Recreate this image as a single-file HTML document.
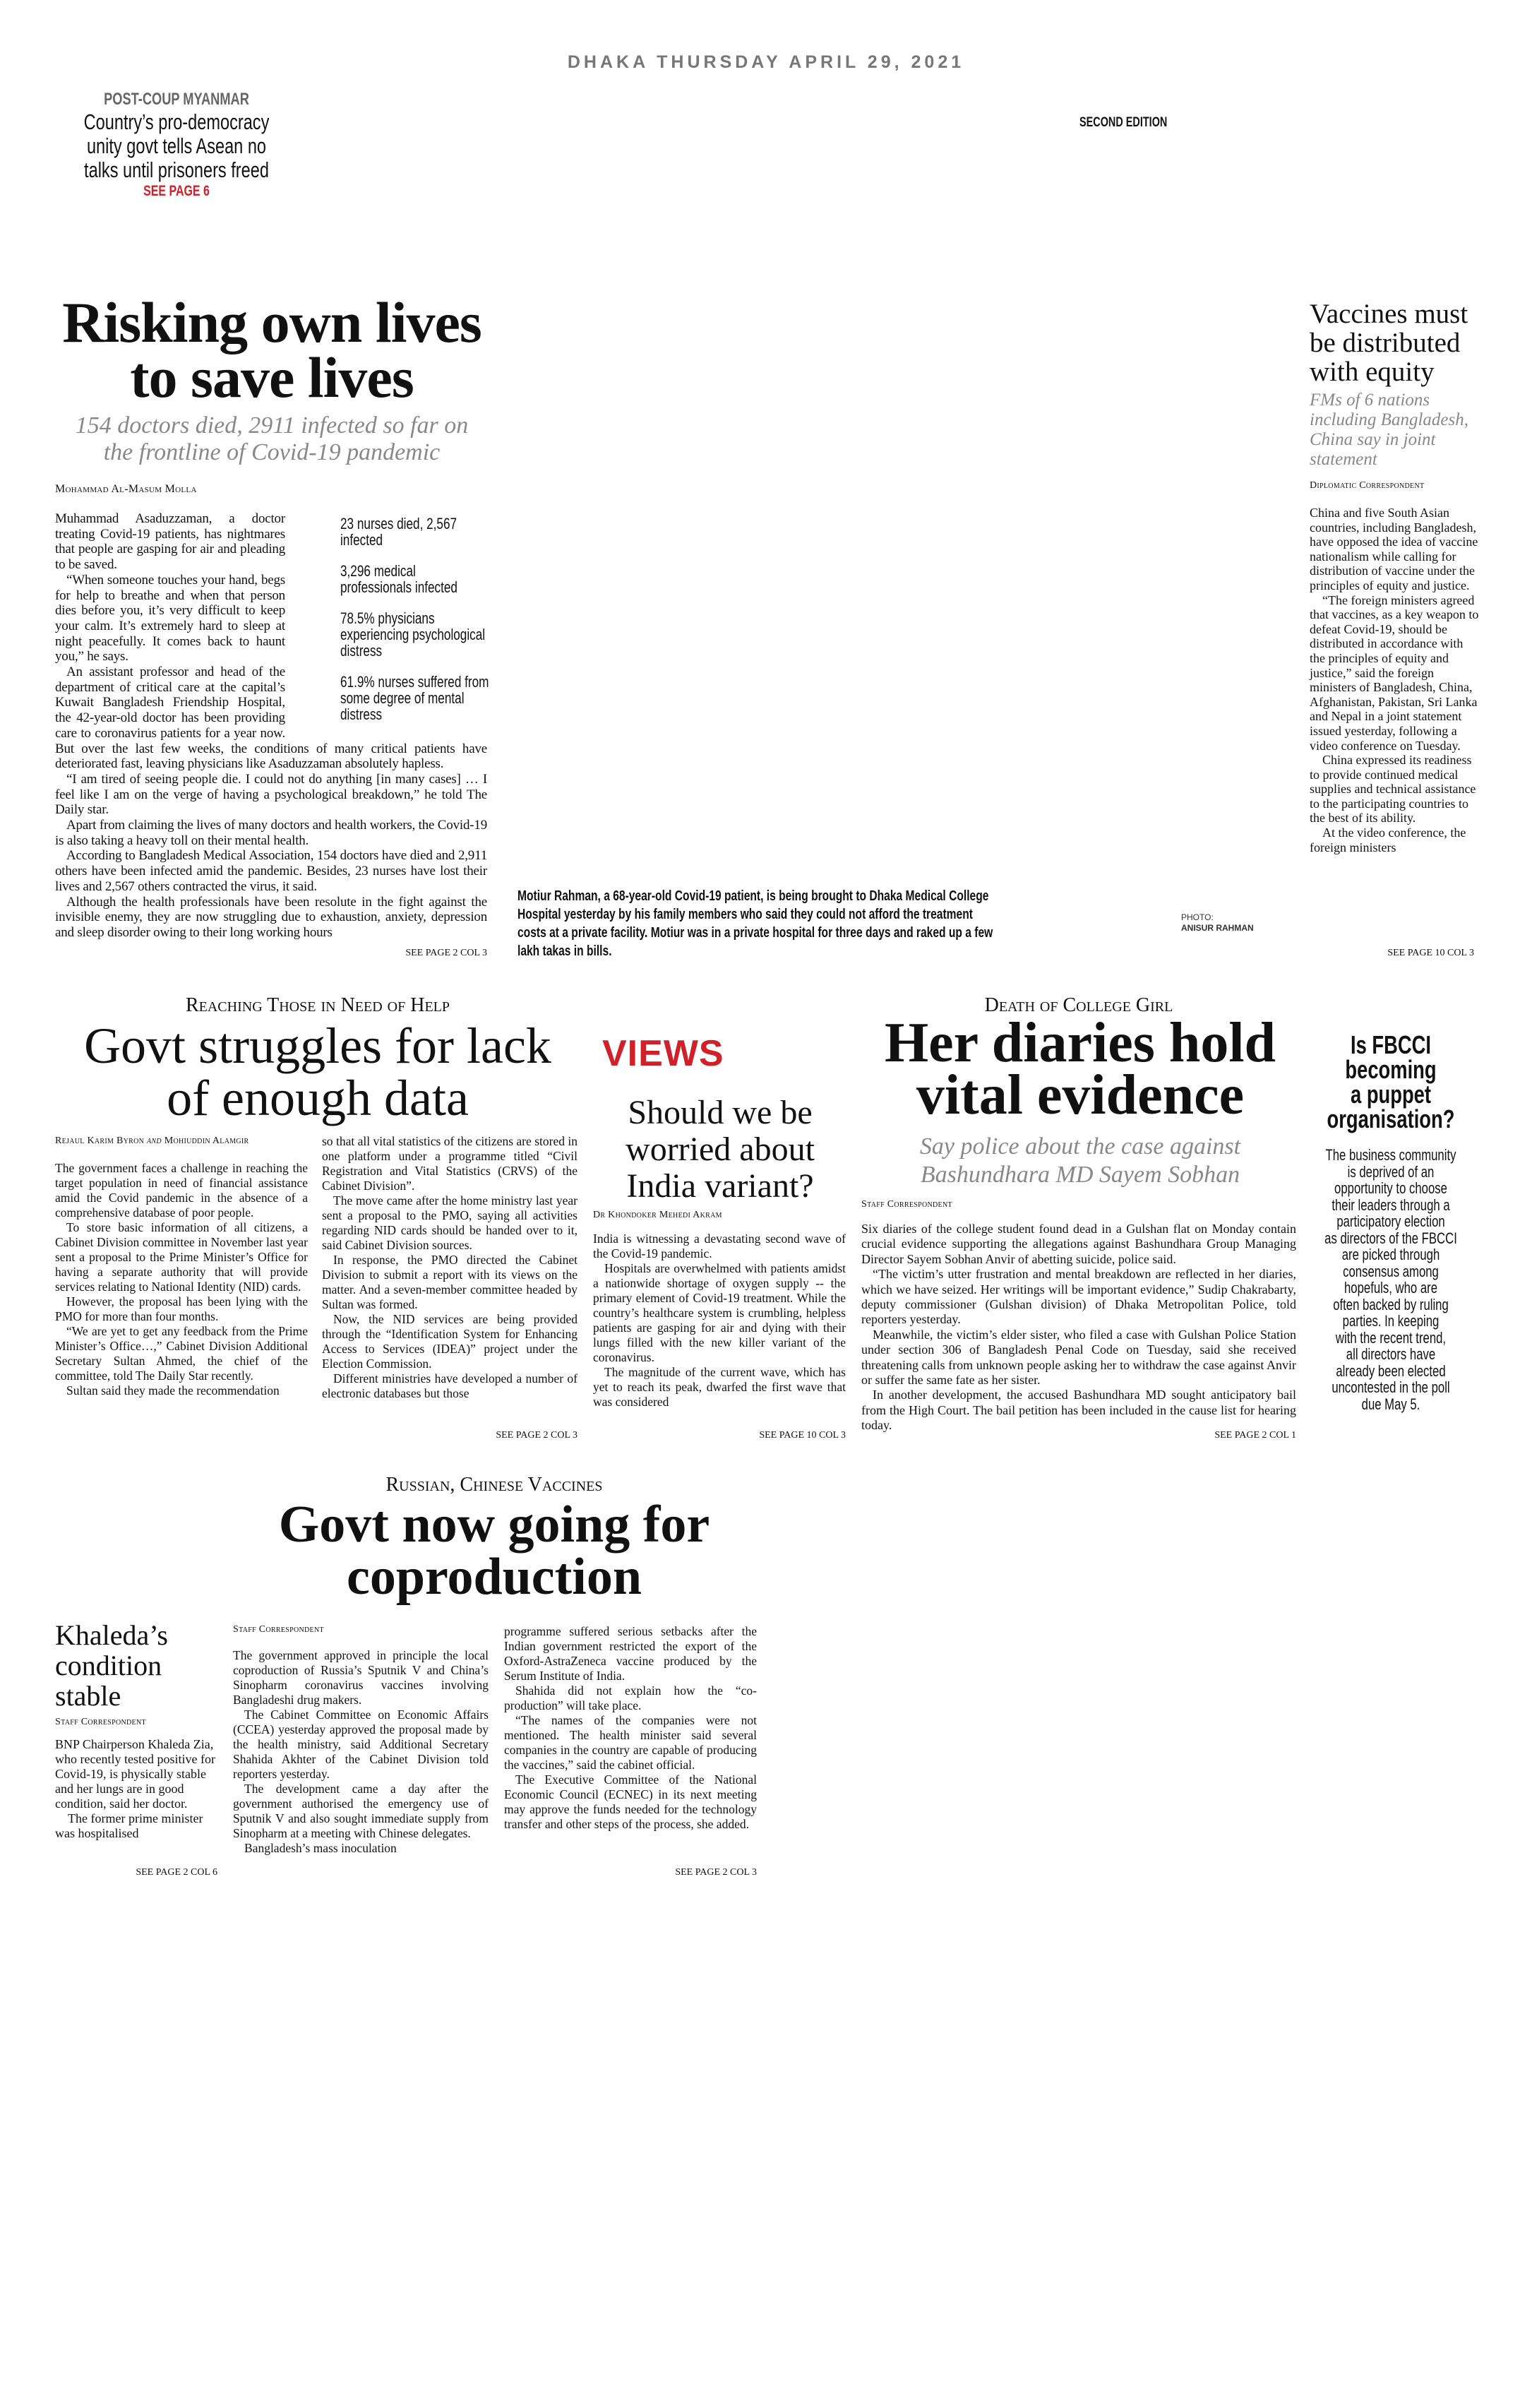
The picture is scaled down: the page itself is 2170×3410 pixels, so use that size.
<!DOCTYPE html>
<html><head><meta charset="utf-8">
<style>
*{margin:0;padding:0;box-sizing:border-box}
html,body{width:2170px;height:3410px;background:#fff;overflow:hidden}
body{position:relative;font-family:"Liberation Serif",serif;color:#111}
.a{position:absolute}
.c{text-align:center}
.cond{font-family:"Liberation Sans",sans-serif}
.body{font-size:17.5px;line-height:21.6px;text-align:justify}
.body p{text-indent:16px}
.body p.f{text-indent:0}
.sc{font-variant:small-caps;font-size:16px;letter-spacing:.3px}
.see{font-size:14px;text-align:right;font-variant:small-caps}
.sqc{transform:scaleX(.76);transform-origin:center top}
.sql{transform:scaleX(.78);transform-origin:left top}
</style></head><body>

<div class="a c" style="left:0;width:2170px;top:74px;font-size:25px;font-weight:bold;color:#777;letter-spacing:5px;font-family:'Liberation Sans',sans-serif">DHAKA THURSDAY APRIL 29, 2021</div>

<div class="a c cond sqc" style="left:30px;width:440px;top:126px;">
<div style="font-size:24px;font-weight:bold;color:#666;line-height:30px">POST-COUP MYANMAR</div>
<div style="font-size:31px;line-height:34px;color:#111">Country’s pro-democracy<br>unity govt tells Asean no<br>talks until prisoners freed</div>
<div style="font-size:21px;font-weight:bold;color:#d0202a;line-height:26px">SEE PAGE 6</div>
</div>

<div class="a sqc" style="left:1505px;top:163px;font-size:19px;font-weight:bold;font-family:'Liberation Sans',sans-serif;width:200px">SECOND EDITION</div>

<!-- Main headline -->
<div class="a c" style="left:60px;width:650px;top:418px;font-size:82px;font-weight:bold;line-height:78px;letter-spacing:-1px">Risking own lives<br>to save lives</div>
<div class="a c" style="left:60px;width:650px;top:584px;font-size:34px;font-style:italic;color:#888;line-height:38px">154 doctors died, 2911 infected so far on<br>the frontline of Covid-19 pandemic</div>
<div class="a sc" style="left:78px;top:684px;">Mohammad Al-Masum Molla</div>

<div class="a body" style="left:78px;top:724px;width:612px;font-size:19px;line-height:21.7px;letter-spacing:-0.2px">
<div style="float:right;width:286px;height:308px;padding-left:78px;text-align:left;padding-top:6px">
<div class="sql cond" style="width:272px;font-size:22px;line-height:23px;letter-spacing:0">
<div style="margin-bottom:21px">23 nurses died, 2,567 infected</div>
<div style="margin-bottom:21px">3,296 medical professionals infected</div>
<div style="margin-bottom:21px">78.5% physicians experiencing psychological distress</div>
<div>61.9% nurses suffered from some degree of mental distress</div>
</div>
</div>
<p class="f">Muhammad Asaduzzaman, a doctor treating Covid-19 patients, has nightmares that people are gasping for air and pleading to be saved.</p>
<p>“When someone touches your hand, begs for help to breathe and when that person dies before you, it’s very difficult to keep your calm. It’s extremely hard to sleep at night peacefully. It comes back to haunt you,” he says.</p>
<p>An assistant professor and head of the department of critical care at the capital’s Kuwait Bangladesh Friendship Hospital, the 42-year-old doctor has been providing care to coronavirus patients for a year now. But over the last few weeks, the conditions of many critical patients have deteriorated fast, leaving physicians like Asaduzzaman absolutely hapless.</p>
<p>“I am tired of seeing people die. I could not do anything [in many cases] … I feel like I am on the verge of having a psychological breakdown,” he told The Daily star.</p>
<p>Apart from claiming the lives of many doctors and health workers, the Covid-19 is also taking a heavy toll on their mental health.</p>
<p>According to Bangladesh Medical Association, 154 doctors have died and 2,911 others have been infected amid the pandemic. Besides, 23 nurses have lost their lives and 2,567 others contracted the virus, it said.</p>
<p>Although the health professionals have been resolute in the fight against the invisible enemy, they are now struggling due to exhaustion, anxiety, depression and sleep disorder owing to their long working hours</p>
</div>
<div class="a see" style="left:490px;width:200px;top:1342px">SEE PAGE 2 COL 3</div>

<div class="a cond sql" style="left:733px;top:1256px;width:1000px;font-size:20px;font-weight:bold;line-height:26px">Motiur Rahman, a 68-year-old Covid-19 patient, is being brought to Dhaka Medical College<br>Hospital yesterday by his family members who said they could not afford the treatment<br>costs at a private facility. Motiur was in a private hospital for three days and raked up a few<br>lakh takas in bills.</div>
<div class="a" style="left:1673px;top:1292px;font-size:12px;line-height:15px;font-family:'Liberation Sans',sans-serif;color:#333">PHOTO:<br><b>ANISUR RAHMAN</b></div>

<!-- right column -->
<div class="a" style="left:1855px;top:424px;width:240px;font-size:39px;line-height:41px">Vaccines must be distributed with equity</div>
<div class="a" style="left:1855px;top:553px;width:240px;font-size:25px;line-height:28px;font-style:italic;color:#888">FMs of 6 nations including Bangladesh, China say in joint statement</div>
<div class="a sc" style="left:1855px;top:680px;font-size:14px">Diplomatic Correspondent</div>
<div class="a" style="left:1855px;top:716px;width:240px;font-size:18px;line-height:20.6px">China and five South Asian countries, including Bangladesh, have opposed the idea of vaccine nationalism while calling for distribution of vaccine under the principles of equity and justice.<br>&nbsp;&nbsp;&nbsp;&nbsp;“The foreign ministers agreed that vaccines, as a key weapon to defeat Covid-19, should be distributed in accordance with the principles of equity and justice,” said the foreign ministers of Bangladesh, China, Afghanistan, Pakistan, Sri Lanka and Nepal in a joint statement issued yesterday, following a video conference on Tuesday.<br>&nbsp;&nbsp;&nbsp;&nbsp;China expressed its readiness to provide continued medical supplies and technical assistance to the participating countries to the best of its ability.<br>&nbsp;&nbsp;&nbsp;&nbsp;At the video conference, the foreign ministers</div>
<div class="a see" style="left:1880px;width:208px;top:1342px">SEE PAGE 10 COL 3</div>

<!-- Row 2 -->
<div class="a c" style="left:170px;width:560px;top:1408px;font-size:28px;font-variant:small-caps">Reaching Those in Need of Help</div>
<div class="a c" style="left:60px;width:780px;top:1444px;font-size:72px;line-height:74px">Govt struggles for lack<br>of enough data</div>
<div class="a sc" style="left:78px;top:1608px;font-size:14px">Rejaul Karim Byron <i>and</i> Mohiuddin Alamgir</div>
<div class="a body" style="left:78px;top:1644px;width:358px;font-size:17.5px;line-height:21px">
<p class="f">The government faces a challenge in reaching the target population in need of financial assistance amid the Covid pandemic in the absence of a comprehensive database of poor people.</p>
<p>To store basic information of all citizens, a Cabinet Division committee in November last year sent a proposal to the Prime Minister’s Office for having a separate authority that will provide services relating to National Identity (NID) cards.</p>
<p>However, the proposal has been lying with the PMO for more than four months.</p>
<p>“We are yet to get any feedback from the Prime Minister’s Office…,” Cabinet Division Additional Secretary Sultan Ahmed, the chief of the committee, told The Daily Star recently.</p>
<p>Sultan said they made the recommendation</p>
</div>
<div class="a body" style="left:456px;top:1606px;width:362px;font-size:17.5px;line-height:21px">
<p class="f">so that all vital statistics of the citizens are stored in one platform under a programme titled “Civil Registration and Vital Statistics (CRVS) of the Cabinet Division”.</p>
<p>The move came after the home ministry last year sent a proposal to the PMO, saying all activities regarding NID cards should be handed over to it, said Cabinet Division sources.</p>
<p>In response, the PMO directed the Cabinet Division to submit a report with its views on the matter. And a seven-member committee headed by Sultan was formed.</p>
<p>Now, the NID services are being provided through the “Identification System for Enhancing Access to Services (IDEA)” project under the Election Commission.</p>
<p>Different ministries have developed a number of electronic databases but those</p>
</div>
<div class="a see" style="left:618px;width:200px;top:2025px">SEE PAGE 2 COL 3</div>

<div class="a" style="left:853px;top:1462px;font-size:52px;font-weight:bold;color:#d0202a;font-family:'Liberation Sans',sans-serif;letter-spacing:1px">VIEWS</div>
<div class="a c" style="left:840px;width:360px;top:1550px;font-size:48px;line-height:52px">Should we be<br>worried about<br>India variant?</div>
<div class="a sc" style="left:840px;top:1713px;font-size:14px">Dr Khondoker Mehedi Akram</div>
<div class="a body" style="left:840px;top:1744px;width:358px;font-size:17.5px;line-height:21px">
<p class="f">India is witnessing a devastating second wave of the Covid-19 pandemic.</p>
<p>Hospitals are overwhelmed with patients amidst a nationwide shortage of oxygen supply -- the primary element of Covid-19 treatment. While the country’s healthcare system is crumbling, helpless patients are gasping for air and dying with their lungs filled with the new killer variant of the coronavirus.</p>
<p>The magnitude of the current wave, which has yet to reach its peak, dwarfed the first wave that was considered</p>
</div>
<div class="a see" style="left:998px;width:200px;top:2025px">SEE PAGE 10 COL 3</div>

<div class="a c" style="left:1220px;width:616px;top:1408px;font-size:28px;font-variant:small-caps">Death of College Girl</div>
<div class="a c" style="left:1200px;width:660px;top:1440px;font-size:80px;font-weight:bold;line-height:74px">Her diaries hold<br>vital evidence</div>
<div class="a c" style="left:1200px;width:660px;top:1604px;font-size:34px;font-style:italic;color:#888;line-height:40px">Say police about the case against<br>Bashundhara MD Sayem Sobhan</div>
<div class="a sc" style="left:1220px;top:1698px;font-size:14px">Staff Correspondent</div>
<div class="a body" style="left:1220px;top:1730px;width:616px;font-size:18px;line-height:21.4px">
<p class="f">Six diaries of the college student found dead in a Gulshan flat on Monday contain crucial evidence supporting the allegations against Bashundhara Group Managing Director Sayem Sobhan Anvir of abetting suicide, police said.</p>
<p>“The victim’s utter frustration and mental breakdown are reflected in her diaries, which we have seized. Her writings will be important evidence,” Sudip Chakrabarty, deputy commissioner (Gulshan division) of Dhaka Metropolitan Police, told reporters yesterday.</p>
<p>Meanwhile, the victim’s elder sister, who filed a case with Gulshan Police Station under section 306 of Bangladesh Penal Code on Tuesday, said she received threatening calls from unknown people asking her to withdraw the case against Anvir or suffer the same fate as her sister.</p>
<p>In another development, the accused Bashundhara MD sought anticipatory bail from the High Court. The bail petition has been included in the cause list for hearing today.</p>
</div>
<div class="a see" style="left:1636px;width:200px;top:2025px">SEE PAGE 2 COL 1</div>

<div class="a c cond sqc" style="left:1820px;width:300px;top:1462px;font-size:36px;font-weight:bold;line-height:35px">Is FBCCI<br>becoming<br>a puppet<br>organisation?</div>
<div class="a c cond sqc" style="left:1820px;width:300px;top:1624px;font-size:22px;line-height:23.5px">The business community<br>is deprived of an<br>opportunity to choose<br>their leaders through a<br>participatory election<br>as directors of the FBCCI<br>are picked through<br>consensus among<br>hopefuls, who are<br>often backed by ruling<br>parties. In keeping<br>with the recent trend,<br>all directors have<br>already been elected<br>uncontested in the poll<br>due May 5.</div>

<!-- Row 3 -->
<div class="a c" style="left:400px;width:600px;top:2087px;font-size:28px;font-variant:small-caps">Russian, Chinese Vaccines</div>
<div class="a c" style="left:300px;width:800px;top:2122px;font-size:74px;font-weight:bold;line-height:74px">Govt now going for<br>coproduction</div>

<div class="a" style="left:78px;top:2294px;width:240px;font-size:40px;line-height:43px">Khaleda’s condition stable</div>
<div class="a sc" style="left:78px;top:2431px;font-size:14px">Staff Correspondent</div>
<div class="a" style="left:78px;top:2460px;width:230px;font-size:18px;line-height:21px">BNP Chairperson Khaleda Zia, who recently tested positive for Covid-19, is physically stable and her lungs are in good condition, said her doctor.<br>&nbsp;&nbsp;&nbsp;&nbsp;The former prime minister was hospitalised</div>
<div class="a see" style="left:108px;width:200px;top:2644px">SEE PAGE 2 COL 6</div>

<div class="a sc" style="left:330px;top:2300px;font-size:14px">Staff Correspondent</div>
<div class="a body" style="left:330px;top:2334px;width:362px;font-size:17.5px;line-height:21px">
<p class="f">The government approved in principle the local coproduction of Russia’s Sputnik V and China’s Sinopharm coronavirus vaccines involving Bangladeshi drug makers.</p>
<p>The Cabinet Committee on Economic Affairs (CCEA) yesterday approved the proposal made by the health ministry, said Additional Secretary Shahida Akhter of the Cabinet Division told reporters yesterday.</p>
<p>The development came a day after the government authorised the emergency use of Sputnik V and also sought immediate supply from Sinopharm at a meeting with Chinese delegates.</p>
<p>Bangladesh’s mass inoculation</p>
</div>
<div class="a body" style="left:714px;top:2300px;width:358px;font-size:17.5px;line-height:21px">
<p class="f">programme suffered serious setbacks after the Indian government restricted the export of the Oxford-AstraZeneca vaccine produced by the Serum Institute of India.</p>
<p>Shahida did not explain how the “co-production” will take place.</p>
<p>“The names of the companies were not mentioned. The health minister said several companies in the country are capable of producing the vaccines,” said the cabinet official.</p>
<p>The Executive Committee of the National Economic Council (ECNEC) in its next meeting may approve the funds needed for the technology transfer and other steps of the process, she added.</p>
</div>
<div class="a see" style="left:872px;width:200px;top:2644px">SEE PAGE 2 COL 3</div>

</body></html>
